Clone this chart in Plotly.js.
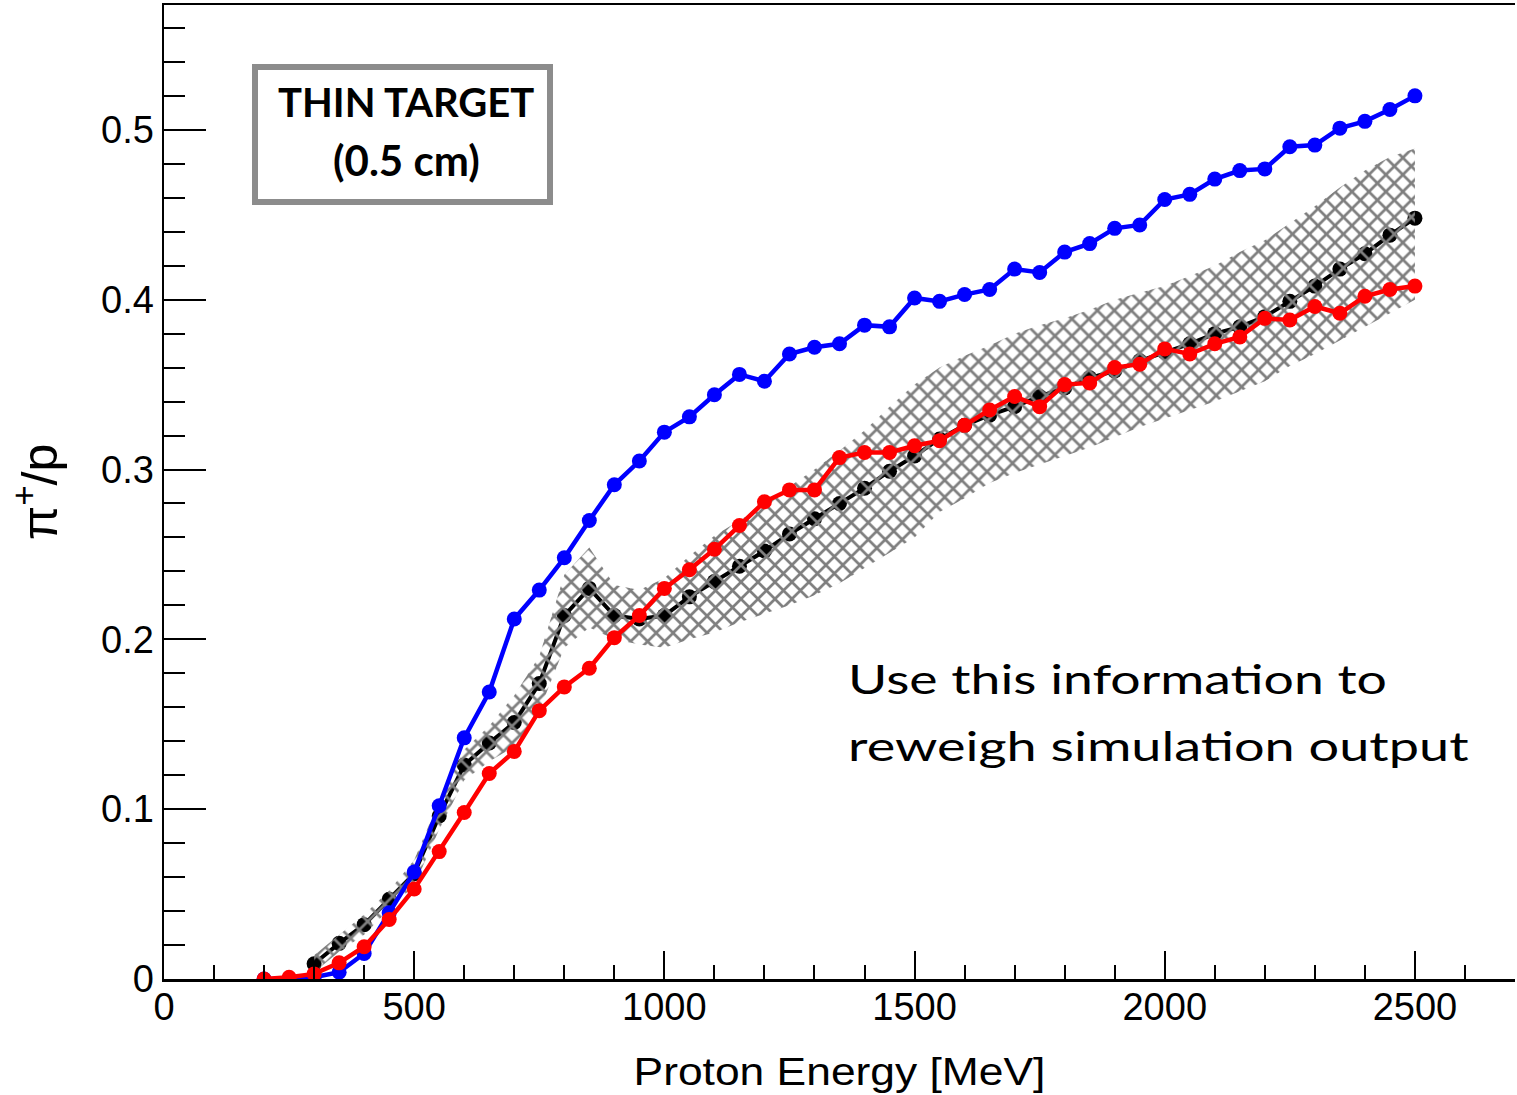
<!DOCTYPE html>
<html>
<head>
<meta charset="utf-8">
<script src="https://cdn.plot.ly/plotly-3.0.1.min.js"></script>
<style>html,body{margin:0;padding:0;background:#fff;}#plot{width:1517px;height:1095px;}</style>
</head>
<body>
<div id="plot"></div>
<script>
// Proton energy [MeV]
const energy = [200,250,300,350,400,450,500,550,600,650,700,750,800,850,900,950,1000,1050,1100,1150,1200,1250,1300,1350,1400,1450,1500,1550,1600,1650,1700,1750,1800,1850,1900,1950,2000,2050,2100,2150,2200,2250,2300,2350,2400,2450,2500];
const blueVals = [0.000,0.000,0.001,0.004,0.015,0.039,0.063,0.102,0.142,0.169,0.212,0.229,0.248,0.270,0.291,0.305,0.322,0.331,0.344,0.356,0.352,0.368,0.372,0.374,0.385,0.384,0.401,0.399,0.403,0.406,0.418,0.416,0.428,0.433,0.442,0.444,0.459,0.462,0.471,0.476,0.477,0.490,0.491,0.501,0.505,0.512,0.520];
const redVals = [0.000,0.001,0.003,0.0095,0.019,0.035,0.053,0.075,0.098,0.121,0.134,0.158,0.172,0.183,0.201,0.214,0.230,0.241,0.253,0.267,0.281,0.288,0.288,0.307,0.310,0.310,0.314,0.317,0.326,0.335,0.343,0.337,0.350,0.351,0.360,0.362,0.371,0.368,0.374,0.378,0.389,0.388,0.396,0.392,0.402,0.406,0.408];
// Black series starts at 300 MeV
const energyBlack = [300,350,400,450,500,550,600,650,700,750,800,850,900,950,1000,1050,1100,1150,1200,1250,1300,1350,1400,1450,1500,1550,1600,1650,1700,1750,1800,1850,1900,1950,2000,2050,2100,2150,2200,2250,2300,2350,2400,2450,2500];
const blackVals = [0.009,0.021,0.032,0.047,0.062,0.096,0.126,0.139,0.151,0.174,0.214,0.230,0.214,0.212,0.214,0.225,0.234,0.243,0.252,0.262,0.271,0.280,0.289,0.299,0.308,0.318,0.326,0.332,0.337,0.343,0.348,0.354,0.358,0.364,0.369,0.374,0.380,0.384,0.390,0.399,0.408,0.418,0.427,0.438,0.448];
const bandHigh = [0.014,0.026,0.038,0.052,0.070,0.105,0.135,0.149,0.167,0.190,0.238,0.254,0.232,0.229,0.236,0.249,0.261,0.270,0.279,0.290,0.300,0.311,0.323,0.337,0.350,0.360,0.367,0.373,0.380,0.385,0.389,0.394,0.400,0.404,0.408,0.414,0.420,0.428,0.435,0.445,0.455,0.466,0.476,0.484,0.489];
const bandLow = [0.004,0.016,0.026,0.041,0.055,0.088,0.117,0.128,0.137,0.158,0.195,0.207,0.200,0.197,0.195,0.200,0.204,0.210,0.215,0.220,0.226,0.233,0.242,0.251,0.260,0.275,0.283,0.292,0.298,0.303,0.308,0.313,0.319,0.325,0.330,0.335,0.340,0.346,0.352,0.361,0.368,0.376,0.384,0.392,0.400];

const xTitle = 'Proton Energy [MeV]';
const yTitle = '\u03c0<sup>+</sup>/p';
const boxLine1 = 'THIN TARGET';
const boxLine2 = '(0.5 cm)';
const noteLine1 = 'Use this information to';
const noteLine2 = 'reweigh simulation output';

const bandX = energyBlack.concat(energyBlack.slice().reverse());
const bandY = bandHigh.concat(bandLow.slice().reverse());

const traces = [
  {x: energyBlack, y: blackVals, mode: 'lines+markers', type: 'scatter',
   line: {color: '#000000', width: 4}, marker: {color: '#000000', size: 15}},
  {x: bandX, y: bandY, mode: 'lines', type: 'scatter', fill: 'toself',
   fillcolor: 'rgba(0,0,0,0)', line: {width: 0, color: 'rgba(0,0,0,0)'},
   fillpattern: {shape: 'x', fgcolor: '#7f7f7f', bgcolor: 'rgba(0,0,0,0)', size: 12, solidity: 0.4}},
  {x: energy, y: blueVals, mode: 'lines+markers', type: 'scatter',
   line: {color: '#0000ff', width: 4.5}, marker: {color: '#0000ff', size: 15}},
  {x: energy, y: redVals, mode: 'lines+markers', type: 'scatter',
   line: {color: '#ff0000', width: 4.5}, marker: {color: '#ff0000', size: 15}}
];

const tickFont = {family: 'Liberation Sans, Arial, sans-serif', size: 38, color: '#000'};

const layout = {
  width: 1517, height: 1095,
  margin: {l: 164, r: 2, t: 5, b: 116, pad: 0},
  paper_bgcolor: '#fff', plot_bgcolor: '#fff',
  showlegend: false,
  xaxis: {
    range: [0, 2700], dtick: 500, tick0: 0,
    showgrid: false, zeroline: false,
    showline: true, linecolor: '#000', linewidth: 2.5, mirror: true,
    ticks: 'inside', ticklen: 28, tickwidth: 2, tickcolor: '#000',
    minor: {dtick: 100, ticks: 'inside', ticklen: 14, tickwidth: 2, tickcolor: '#000', showgrid: false},
    tickfont: tickFont, ticklabelstandoff: -7,
    title: {text: xTitle, font: {family: 'Liberation Sans, Arial, sans-serif', size: 39, color: '#000'}, standoff: 31},
    automargin: false
  },
  yaxis: {
    range: [0, 0.5735], dtick: 0.1, tick0: 0,
    showgrid: false, zeroline: false,
    showline: true, linecolor: '#000', linewidth: 2.5,
    ticks: 'inside', ticklen: 42, tickwidth: 2, tickcolor: '#000',
    minor: {dtick: 0.02, ticks: 'inside', ticklen: 21, tickwidth: 2, tickcolor: '#000', showgrid: false},
    tickfont: tickFont,
    title: {text: yTitle, font: {family: 'Liberation Sans, Arial, sans-serif', size: 50, color: '#000'}, standoff: 28},
    automargin: false
  },
  shapes: [
    {type: 'rect', xref: 'paper', yref: 'paper',
     x0: (255-164)/1351, x1: (550-164)/1351, y0: (979-202)/974, y1: (979-67)/974,
     line: {color: '#8c8c8c', width: 6}, fillcolor: '#ffffff', layer: 'above'}
  ],
  annotations: [
    {xref: 'paper', yref: 'paper', x: (406-164)/1351, y: (979-102)/974, xanchor: 'center', yanchor: 'middle',
     text: '<b>' + boxLine1 + '</b>', showarrow: false,
     font: {family: 'Lato, Open Sans, sans-serif', size: 40, color: '#000'}},
    {xref: 'paper', yref: 'paper', x: (406-164)/1351, y: (979-160)/974, xanchor: 'center', yanchor: 'middle',
     text: '<b>' + boxLine2 + '</b>', showarrow: false,
     font: {family: 'Lato, Open Sans, sans-serif', size: 42, color: '#000'}},
    {xref: 'paper', yref: 'paper', x: (846-164)/1351, y: (979-678)/974, xanchor: 'left', yanchor: 'middle',
     text: noteLine1, showarrow: false,
     font: {family: 'Lato, Open Sans, sans-serif', size: 41, color: '#000'}},
    {xref: 'paper', yref: 'paper', x: (846-164)/1351, y: (979-745)/974, xanchor: 'left', yanchor: 'middle',
     text: noteLine2, showarrow: false,
     font: {family: 'Lato, Open Sans, sans-serif', size: 41, color: '#000'}}
  ]
};

// Horizontal stretch of selected texts to match the reference widths (text stays text)
function stretchText(el, targetWidth, anchor) {
  if (!el) return;
  const bb = el.getBBox();
  if (!bb.width) return;
  const s = targetWidth / bb.width;
  const x0 = anchor === 'left' ? bb.x : bb.x + bb.width / 2;
  const prev = el.getAttribute('transform') || '';
  el.setAttribute('transform', prev + ' translate(' + (x0 * (1 - s)) + ',0) scale(' + s + ',1)');
}

Plotly.newPlot('plot', traces, layout, {staticPlot: true, displayModeBar: false}).then(function (gd) {
  const annTexts = gd.querySelectorAll('.annotation text.annotation-text');
  if (annTexts.length >= 4) {
    stretchText(annTexts[2], 539, 'left');
    stretchText(annTexts[3], 621, 'left');
  }
  const xt = gd.querySelector('.xtitle');
  stretchText(xt, 412, 'center');
});
</script>
</body>
</html>
